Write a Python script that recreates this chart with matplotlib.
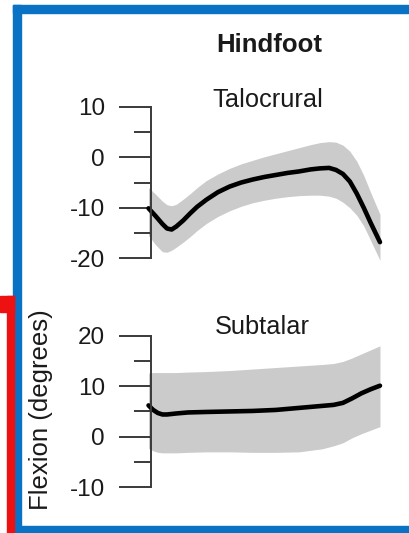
import matplotlib
matplotlib.use("Agg")
import matplotlib.pyplot as plt
from matplotlib.patches import Rectangle
from matplotlib.ticker import MultipleLocator

plt.rcParams['font.family'] = ['Liberation Sans', 'DejaVu Sans']

# ---- data (percent of cycle vs flexion, degrees) ----
talo_x = [0, 3, 6, 8, 10, 12, 15, 18, 21, 25, 30, 35, 40, 45, 50, 55, 60, 65, 70, 74, 78,
          81, 84, 87, 90, 93, 96, 100]
talo_mean = [-10.1, -11.6, -13.2, -14.1, -14.3, -13.7, -12.5, -11.1, -9.8, -8.4, -6.9,
             -5.8, -5.0, -4.4, -3.9, -3.5, -3.1, -2.8, -2.4, -2.2, -2.1, -2.5, -3.3,
             -4.8, -7.2, -10.0, -13.0, -16.8]
talo_upper = [-6.0, -7.3, -8.7, -9.4, -9.6, -9.3, -8.3, -7.2, -6.0, -4.6, -3.3, -2.2,
              -1.3, -0.6, 0.1, 0.7, 1.3, 1.9, 2.5, 2.9, 3.1, 3.0, 2.4, 1.2, -0.8, -3.6,
              -7.0, -11.3]
talo_lower = [-15.5, -17.3, -18.7, -18.8, -18.4, -17.8, -16.8, -15.7, -14.5, -13.1,
              -11.7, -10.6, -9.7, -9.0, -8.5, -8.1, -7.8, -7.6, -7.5, -7.5, -7.7, -8.1,
              -8.9, -10.0, -11.5, -13.6, -16.5, -20.4]

sub_x = [0, 2, 4, 6, 8, 12, 17, 25, 35, 45, 55, 65, 75, 80, 84, 88, 92, 96, 100]
sub_mean = [6.2, 5.3, 4.7, 4.4, 4.4, 4.6, 4.8, 4.9, 5.0, 5.1, 5.3, 5.7, 6.1, 6.3, 6.7,
            7.6, 8.6, 9.4, 10.1]
sub_upper = [12.6, 12.7, 12.7, 12.7, 12.7, 12.7, 12.8, 12.9, 13.1, 13.4, 13.7, 14.0,
             14.3, 14.5, 14.9, 15.6, 16.4, 17.2, 18.0]
sub_lower = [-2.3, -2.8, -3.1, -3.2, -3.2, -3.2, -3.1, -3.0, -3.0, -3.1, -3.1, -3.0,
             -2.4, -1.8, -1.2, -0.2, 0.6, 1.3, 2.0]

talo_ticks = [-20, -10, 0, 10]
sub_ticks = [-10, 0, 10, 20]

W, H = 410, 533
fig = plt.figure(figsize=(W / 100, H / 100), dpi=100)
fig.patch.set_facecolor('white')

def px(x0, y0, x1, y1):
    return [x0 / W, 1 - y1 / H, (x1 - x0) / W, (y1 - y0) / H]

band_color = '#cbcbcb'
spine_color = '#3a3a3a'
text_color = '#1a1a1a'

def setup(ax, ticks, ylim):
    ax.set_xlim(-2, 102)
    ax.set_ylim(*ylim)
    for s in ['top', 'right', 'bottom']:
        ax.spines[s].set_visible(False)
    ax.spines['left'].set_position(('data', 1))
    ax.spines['left'].set_bounds(ticks[0], ticks[-1])
    ax.spines['left'].set_color(spine_color)
    ax.spines['left'].set_linewidth(1.4)
    ax.set_xticks([])
    ax.set_yticks(ticks)
    ax.set_yticklabels([str(t) for t in ticks])
    ax.yaxis.set_minor_locator(MultipleLocator(5))
    ax.tick_params(axis='y', which='major', length=23, width=1.4, color=spine_color,
                   pad=10, labelsize=17.5, labelcolor=text_color)
    ax.tick_params(axis='y', which='minor', length=12, width=1.4, color=spine_color)
    ax.patch.set_visible(False)

ax1 = fig.add_axes(px(143.9, 96.7, 384.6, 268.4))
ax1.fill_between(talo_x, talo_lower, talo_upper, color=band_color, linewidth=0)
ax1.plot(talo_x, talo_mean, color='black', lw=3.3, solid_capstyle='round',
         solid_joinstyle='round')
setup(ax1, talo_ticks, (-22, 12))

ax2 = fig.add_axes(px(143.9, 325.6, 384.6, 497.3))
ax2.fill_between(sub_x, sub_lower, sub_upper, color=band_color, linewidth=0)
ax2.plot(sub_x, sub_mean, color='black', lw=3.3, solid_capstyle='round',
         solid_joinstyle='round')
setup(ax2, sub_ticks, (-12, 22))

fig.text(269 / W, 1 - 51.7 / H, 'Hindfoot', ha='center', va='baseline',
         fontsize=18.5, fontweight='bold', color=text_color)
fig.text(268 / W, 1 - 106.7 / H, 'Talocrural', ha='center', va='baseline',
         fontsize=18.3, color=text_color)
fig.text(262.5 / W, 1 - 334 / H, 'Subtalar', ha='center', va='baseline',
         fontsize=18.3, color=text_color)
fig.text(41 / W, 1 - 410 / H, 'Flexion (degrees)', ha='center', va='center',
         rotation=90, fontsize=18.5, color=text_color)

# decorative frame
blue = '#0a72c4'
red = '#ee1111'
fig.patches.append(Rectangle((13 / W, 0), 8 / W, 1 - 5 / H, transform=fig.transFigure,
                             color=blue, zorder=5))
fig.patches.append(Rectangle((13 / W, 1 - 13 / H), 1 - 13 / W, 8 / H, transform=fig.transFigure,
                             color=blue, zorder=5))
fig.patches.append(Rectangle((13 / W, 0), 1 - 13 / W, 7 / H, transform=fig.transFigure,
                             color=blue, zorder=5))
fig.patches.append(Rectangle((0, 1 - 312 / H), 14 / W, 16 / H, transform=fig.transFigure,
                             color=red, zorder=5))
fig.patches.append(Rectangle((7 / W, 0), 6.5 / W, 1 - 296 / H, transform=fig.transFigure,
                             color=red, zorder=5))

fig.savefig('out.png', dpi=100)
